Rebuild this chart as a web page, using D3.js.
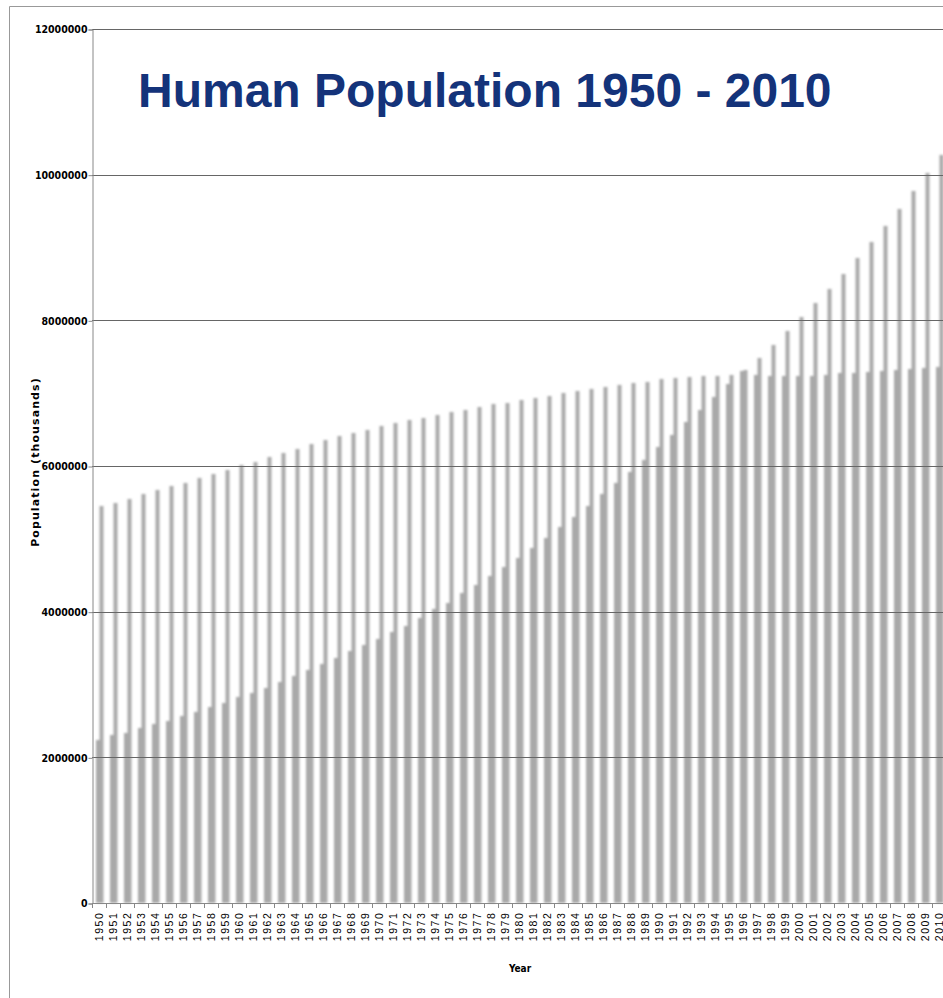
<!DOCTYPE html>
<html>
<head>
<meta charset="utf-8">
<script src="https://cdn.jsdelivr.net/npm/d3@7"></script>
<style>
  body { margin: 0; background: #fff; }
</style>
</head>
<body>
<div id="chart"></div>
<script>
// years on the x axis
const years = d3.range(1950, 2011).map(String);

// wider, lower series (thousands)
const seriesA = [
  2238000, 2307000, 2334000, 2403000, 2458000, 2499000, 2568000, 2623000, 2691000, 2746000,
  2829000, 2883000, 2952000, 3034000, 3117000, 3199000, 3282000, 3364000, 3460000, 3542000,
  3625000, 3721000, 3803000, 3913000, 4037000, 4119000, 4256000, 4366000, 4490000, 4613000,
  4737000, 4874000, 5012000, 5163000, 5300000, 5451000, 5616000, 5767000, 5918000, 6083000,
  6261000, 6426000, 6604000, 6769000, 6948000, 7126000, 7305000, 7250000, 7236000, 7236000,
  7236000, 7236000, 7250000, 7277000, 7277000, 7291000, 7305000, 7318000, 7332000, 7346000,
  7360000
];

// thin, taller series (thousands)
const seriesB = [
  5451000, 5492000, 5547000, 5616000, 5671000, 5726000, 5767000, 5836000, 5890000, 5945000,
  6014000, 6055000, 6124000, 6179000, 6234000, 6302000, 6357000, 6412000, 6453000, 6495000,
  6550000, 6591000, 6632000, 6659000, 6700000, 6742000, 6769000, 6810000, 6852000, 6865000,
  6906000, 6934000, 6961000, 7003000, 7030000, 7058000, 7085000, 7113000, 7140000, 7154000,
  7195000, 7209000, 7222000, 7236000, 7236000, 7250000, 7318000, 7483000, 7662000, 7854000,
  8046000, 8238000, 8431000, 8636000, 8856000, 9076000, 9296000, 9529000, 9776000, 10023000,
  10271000
];

const yTicks = [0, 2000000, 4000000, 6000000, 8000000, 10000000, 12000000];

const W = 943, H = 998;
const plot = {left: 92, top: 29, right: 946, bottom: 903};

const svg = d3.select("#chart").append("svg")
  .attr("width", W)
  .attr("height", H)
  .style("font-family", "'DejaVu Sans', sans-serif");

// soft edges on the bars
svg.append("defs").append("filter")
  .attr("id", "soft")
  .attr("x", "-50%").attr("width", "200%")
  .append("feGaussianBlur")
  .attr("stdDeviation", 0.8);

// outer frame
svg.append("path")
  .attr("d", `M9.5,${H} V6.5 H${W}`)
  .attr("fill", "none")
  .attr("stroke", "#999");

const x = d3.scaleBand()
  .domain(years)
  .range([plot.left, plot.right])
  .padding(0);

const y = d3.scaleLinear()
  .domain([0, 12000000])
  .range([plot.bottom, plot.top]);

// bars
const bars = svg.append("g").attr("filter", "url(#soft)").attr("fill", "#a9a9a9");
bars.selectAll("rect.a")
  .data(years)
  .join("rect")
  .attr("class", "a")
  .attr("x", d => x(d) + 4)
  .attr("width", 7)
  .attr("y", (d, i) => y(seriesA[i]))
  .attr("height", (d, i) => y(0) - y(seriesA[i]));
bars.selectAll("rect.b")
  .data(years)
  .join("rect")
  .attr("class", "b")
  .attr("x", d => x(d) + 7.5)
  .attr("width", 4)
  .attr("y", (d, i) => y(seriesB[i]))
  .attr("height", (d, i) => y(0) - y(seriesB[i]));

// grid lines
svg.append("g")
  .selectAll("line")
  .data(yTicks)
  .join("line")
  .attr("x1", plot.left).attr("x2", plot.right)
  .attr("y1", d => Math.round(y(d)) + 0.5)
  .attr("y2", d => Math.round(y(d)) + 0.5)
  .attr("stroke", d => d === 0 ? "#888" : "#666")
  .attr("stroke-width", 1.2);

// y axis
const yAxis = svg.append("g")
  .attr("transform", `translate(${plot.left + 0.5},0.5)`)
  .call(d3.axisLeft(y).tickValues(yTicks).tickFormat(d3.format("d")).tickSize(4).tickPadding(1));
yAxis.select(".domain").attr("stroke", "#888");
yAxis.selectAll(".tick line").attr("stroke", "#888");
yAxis.selectAll("text")
  .attr("font-family", "'DejaVu Sans Condensed', 'DejaVu Sans', sans-serif")
  .attr("font-size", 10.5)
  .attr("font-weight", "bold")
  .attr("fill", "#000");

// x axis
const xAxis = svg.append("g")
  .attr("transform", `translate(0,${plot.bottom + 0.5})`)
  .call(d3.axisBottom(x).tickSize(0).tickPadding(0));
xAxis.select(".domain").remove();
xAxis.selectAll(".tick text")
  .attr("font-size", 10.5)
  .attr("letter-spacing", 1.6)
  .attr("fill", "#000")
  .attr("transform", "translate(0,8) rotate(-90)")
  .attr("dy", "0.35em")
  .style("text-anchor", "end");
svg.append("g")
  .selectAll("line")
  .data(years)
  .join("line")
  .attr("x1", d => x(d) + 0.5).attr("x2", d => x(d) + 0.5)
  .attr("y1", plot.bottom).attr("y2", plot.bottom + 5)
  .attr("stroke", "#888");

// title
svg.append("text")
  .attr("x", 138)
  .attr("y", 107)
  .attr("font-family", "'Liberation Sans', Arial, sans-serif")
  .attr("font-size", 48)
  .attr("font-weight", "bold")
  .attr("fill", "#14337a")
  .text("Human Population 1950 - 2010");

// axis titles
svg.append("text")
  .attr("transform", "translate(39,462) rotate(-90)")
  .attr("text-anchor", "middle")
  .attr("font-size", 11)
  .attr("font-weight", "bold")
  .attr("letter-spacing", 1.1)
  .text("Population (thousands)");

svg.append("text")
  .attr("x", 520)
  .attr("y", 972)
  .attr("text-anchor", "middle")
  .attr("font-family", "'DejaVu Sans Condensed', 'DejaVu Sans', sans-serif")
  .attr("font-size", 10)
  .attr("font-weight", "bold")
  .text("Year");
</script>
</body>
</html>
